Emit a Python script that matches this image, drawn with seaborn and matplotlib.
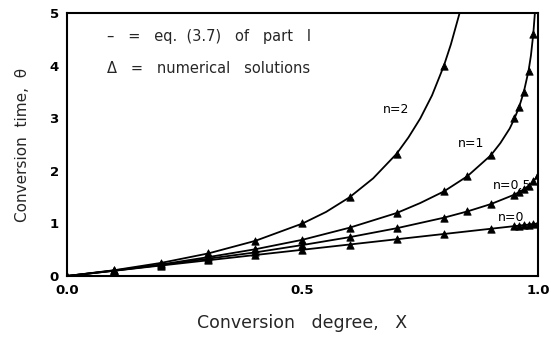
import numpy as np
import pandas as pd
import matplotlib
matplotlib.use("Agg")
import matplotlib.pyplot as plt
import seaborn as sns

# ---- data ----
# model curves, eq. (3.7)
line_x_n0 = [0.0, 0.2, 0.4, 0.6, 0.8, 1.0]
line_t_n0 = [0.0, 0.2, 0.4, 0.6, 0.8, 1.0]
line_x_n05 = [0.0, 0.1, 0.2, 0.3, 0.4, 0.5, 0.6, 0.7, 0.8, 0.85, 0.9, 0.95, 0.97, 0.98, 0.99, 0.995, 1.0]
line_t_n05 = [0.0, 0.10, 0.21, 0.33, 0.45, 0.59, 0.74, 0.91, 1.11, 1.23, 1.37, 1.55, 1.65, 1.72, 1.80, 1.86, 1.95]
line_x_n1 = [0.0, 0.1, 0.2, 0.3, 0.4, 0.5, 0.6, 0.7, 0.75, 0.8, 0.85, 0.9, 0.92, 0.94, 0.95, 0.96, 0.97, 0.98, 0.985, 0.99, 0.9933]
line_t_n1 = [0.0, 0.105, 0.22, 0.36, 0.51, 0.69, 0.92, 1.20, 1.39, 1.61, 1.90, 2.30, 2.53, 2.81, 3.00, 3.22, 3.51, 3.91, 4.20, 4.61, 5.0]
line_x_n2 = [0.0, 0.1, 0.2, 0.3, 0.4, 0.5, 0.55, 0.6, 0.65, 0.7, 0.725, 0.75, 0.775, 0.8, 0.815, 0.8333]
line_t_n2 = [0.0, 0.11, 0.25, 0.43, 0.67, 1.0, 1.22, 1.5, 1.86, 2.33, 2.64, 3.0, 3.44, 4.0, 4.41, 5.0]

# numerical solutions (triangles)
pts_x_n0 = [0.0, 0.1, 0.2, 0.3, 0.4, 0.5, 0.6, 0.7, 0.8, 0.9, 0.95, 0.96, 0.97, 0.98, 0.99, 1.0]
pts_t_n0 = [0.0, 0.1, 0.2, 0.3, 0.4, 0.5, 0.6, 0.7, 0.8, 0.9, 0.95, 0.96, 0.97, 0.98, 0.99, 1.0]
pts_x_n05 = [0.1, 0.2, 0.3, 0.4, 0.5, 0.6, 0.7, 0.8, 0.85, 0.9, 0.95, 0.96, 0.97, 0.98, 0.99, 1.0]
pts_t_n05 = [0.10, 0.21, 0.33, 0.45, 0.59, 0.74, 0.91, 1.11, 1.23, 1.37, 1.55, 1.60, 1.65, 1.72, 1.80, 1.92]
pts_x_n1 = [0.1, 0.2, 0.3, 0.4, 0.5, 0.6, 0.7, 0.8, 0.85, 0.9, 0.95, 0.96, 0.97, 0.98, 0.99]
pts_t_n1 = [0.105, 0.22, 0.36, 0.51, 0.69, 0.92, 1.20, 1.61, 1.90, 2.30, 3.00, 3.22, 3.51, 3.91, 4.61]
pts_x_n2 = [0.1, 0.2, 0.3, 0.4, 0.5, 0.6, 0.7, 0.8]
pts_t_n2 = [0.11, 0.25, 0.43, 0.67, 1.0, 1.5, 2.33, 4.0]

series = ["n=0", "n=0.5", "n=1", "n=2"]
line_x = [line_x_n0, line_x_n05, line_x_n1, line_x_n2]
line_t = [line_t_n0, line_t_n05, line_t_n1, line_t_n2]
pts_x = [pts_x_n0, pts_x_n05, pts_x_n1, pts_x_n2]
pts_t = [pts_t_n0, pts_t_n05, pts_t_n1, pts_t_n2]

label_text = ["n=0", "n=0.5", "n=1", "n=2"]
label_xy = [(0.915, 1.12), (0.905, 1.73), (0.83, 2.53), (0.67, 3.18)]

lines_df = pd.concat([pd.DataFrame({"X": x, "theta": t, "n": s})
                      for s, x, t in zip(series, line_x, line_t)], ignore_index=True)
pts_df = pd.concat([pd.DataFrame({"X": x, "theta": t, "n": s})
                    for s, x, t in zip(series, pts_x, pts_t)], ignore_index=True)

sns.set_style("white")
plt.rcParams["font.family"] = ["DejaVu Sans"]

fig = plt.figure(figsize=(5.51, 3.37), dpi=100)
ax = fig.add_axes([0.1216, 0.181, 0.8548, 0.779])

sns.lineplot(data=lines_df, x="X", y="theta", units="n", estimator=None,
             color="black", linewidth=1.3, sort=False, ax=ax, legend=False)
sns.scatterplot(data=pts_df, x="X", y="theta", marker="^", color="black",
                edgecolor="black", s=28, linewidth=0.6, ax=ax, legend=False, zorder=3)

for txt, (x, y) in zip(label_text, label_xy):
    ax.text(x, y, txt, fontsize=9, color="black", ha="left", va="center")

ax.text(0.085, 4.57, "–   =   eq.  (3.7)   of   part   I", fontsize=10.5, ha="left", va="center")
ax.text(0.085, 3.96, "Δ   =   numerical   solutions", fontsize=10.5, ha="left", va="center")

ax.set_xlim(0, 1.0)
ax.set_ylim(0, 5)
ax.set_xticks([0.0, 0.5, 1.0])
ax.set_xticklabels(["0.0", "0.5", "1.0"])
ax.set_yticks([0, 1, 2, 3, 4, 5])
ax.tick_params(direction="in", length=5, width=1.2, labelsize=9.5, pad=6, colors="black")
for lab in ax.get_xticklabels() + ax.get_yticklabels():
    lab.set_fontweight("bold")
for sp in ax.spines.values():
    sp.set_visible(True)
    sp.set_color("black")
    sp.set_linewidth(1.5)

ax.set_xlabel("Conversion   degree,   X", fontsize=12.5, labelpad=12)
ax.set_ylabel("Conversion  time,  θ", fontsize=11, labelpad=14)

fig.savefig("out.png", dpi=100, facecolor="white")
